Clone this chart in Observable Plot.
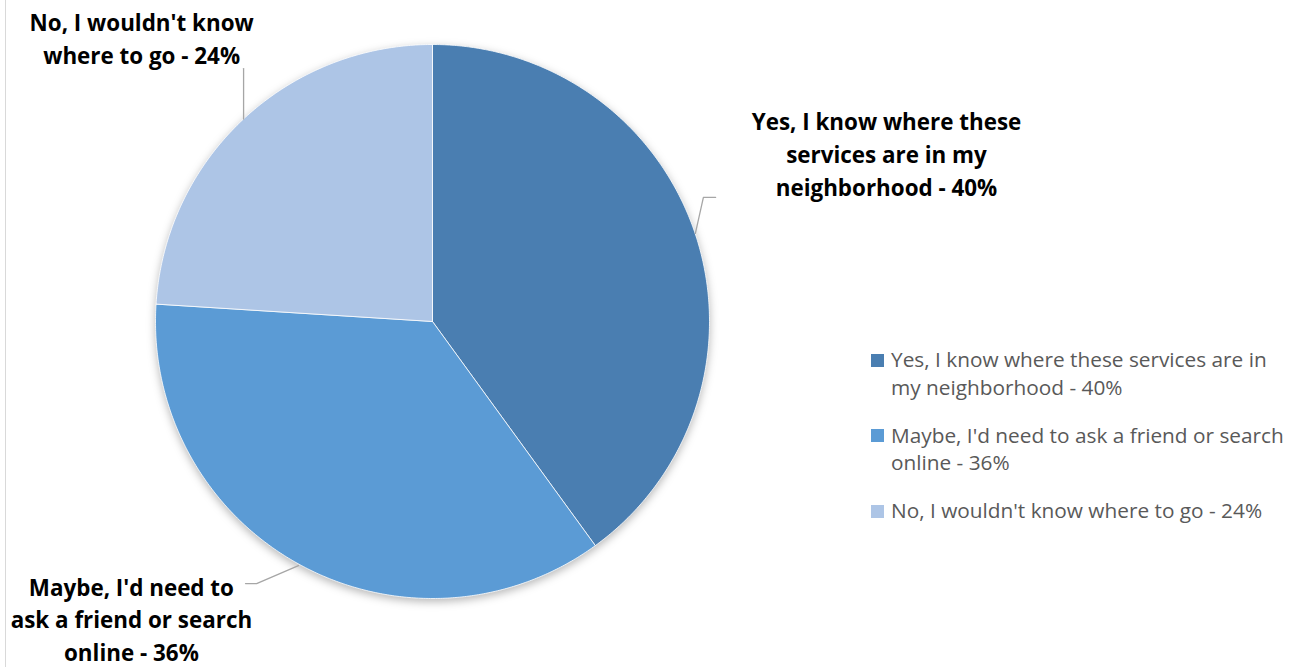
<!DOCTYPE html>
<html>
<head>
<meta charset="utf-8">
<script src="https://cdn.jsdelivr.net/npm/d3@7"></script>
<script src="https://cdn.jsdelivr.net/npm/@observablehq/plot@0.6"></script>
<style>
  html, body { margin: 0; padding: 0; background: #fff; }
  #wrap { position: relative; width: 1301px; height: 667px; overflow: hidden; font-family: "Open Sans", Lato, sans-serif; }
  #border { position: absolute; left: 5px; top: 0; width: 1px; height: 667px; background: #d9d9d9; }
  #legend { position: absolute; left: 871px; top: 346px; font-size: 20.8px; color: #595959; line-height: 27.5px; white-space: nowrap; }
  .item { position: relative; padding-left: 20px; margin-bottom: 20.5px; }
  .sw { position: absolute; left: 0; top: 7.5px; width: 13px; height: 13px; }
</style>
</head>
<body>
<div id="wrap"><div id="border"></div></div>
<script>
// ---- data ----
const categories = ["Yes", "Maybe", "No"];
const values = [40, 36, 24];
const colors = ["#4a7eb1", "#5b9bd5", "#adc5e6"];
const sliceLabels = [
  "Yes, I know where these\nservices are in my\nneighborhood - 40%",
  "Maybe, I'd need to\nask a friend or search\nonline - 36%",
  "No, I wouldn't know\nwhere to go - 24%"
];
const legendLabels = [
  "Yes, I know where these services are in\nmy neighborhood - 40%",
  "Maybe, I'd need to ask a friend or search\nonline - 36%",
  "No, I wouldn't know where to go - 24%"
];

// ---- layout (unit-radius coordinates) ----
const labelPos = [[1.639, 0.61], [-1.087, -1.07], [-1.05, 1.027]];
const leaders = [
  [[0.949, 0.318], [0.978, 0.448], [1.022, 0.448]],
  [[-0.484, -0.881], [-0.635, -0.946], [-0.675, -0.946]],
  [[-0.682, 0.731], [-0.682, 0.913]]
];

const W = 1301, H = 667, cx = 432, cy = 321, R = 277;

// slice polygons from d3.pie angles (clockwise from 12 o'clock)
const arcs = d3.pie().sort(null).value(d => d)(values);
const slicePts = [];
arcs.forEach((a, i) => {
  const key = categories[i];
  slicePts.push({key, x: 0, y: 0});
  const n = Math.max(2, Math.ceil((a.endAngle - a.startAngle) / (Math.PI / 360)));
  for (let k = 0; k <= n; k++) {
    const t = a.startAngle + (a.endAngle - a.startAngle) * k / n;
    slicePts.push({key, x: Math.sin(t), y: Math.cos(t)});
  }
  slicePts.push({key, x: 0, y: 0});
});

const leaderPts = leaders.flatMap((pts, i) => pts.map(([x, y]) => ({key: categories[i], x, y})));
const labels = categories.map((c, i) => ({key: c, text: sliceLabels[i], x: labelPos[i][0], y: labelPos[i][1]}));

const chart = Plot.plot({
  width: W, height: H,
  margin: 0,
  x: {domain: [-cx / R, (W - cx) / R], range: [0, W], axis: null},
  y: {domain: [-(H - cy) / R, cy / R], range: [H, 0], axis: null},
  color: {domain: categories, range: colors},
  style: {background: "transparent"},
  marks: [
    Plot.line(slicePts, {x: "x", y: "y", z: "key", fill: "key", stroke: "white", strokeWidth: 0.8, curve: "linear"}),
    Plot.line(leaderPts, {x: "x", y: "y", z: "key", stroke: "#a6a6a6", strokeWidth: 1.3}),
    Plot.text(labels, {x: "x", y: "y", text: "text", fontSize: 22.4, fontWeight: "bold", fill: "#000", lineHeight: 1.46, fontFamily: "'Open Sans', Lato, sans-serif"})
  ]
});
chart.style.position = "absolute";
chart.style.left = "0px";
chart.style.top = "0px";
const g = chart.querySelector('g[aria-label="line"]');
if (g) g.style.filter = "drop-shadow(0px 3px 4px rgba(0,0,0,0.28))";
const wrap = document.getElementById("wrap");
wrap.appendChild(chart);

const legend = document.createElement("div");
legend.id = "legend";
categories.forEach((c, i) => {
  const item = document.createElement("div");
  item.className = "item";
  const sw = document.createElement("span");
  sw.className = "sw";
  sw.style.background = colors[i];
  item.appendChild(sw);
  legendLabels[i].split("\n").forEach((line, j) => {
    if (j) item.appendChild(document.createElement("br"));
    item.appendChild(document.createTextNode(line));
  });
  legend.appendChild(item);
});
wrap.appendChild(legend);
</script>
</body>
</html>
